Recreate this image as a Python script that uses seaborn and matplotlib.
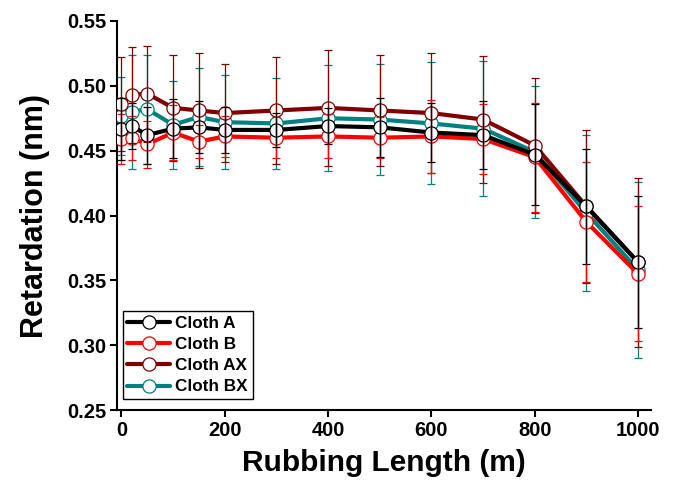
import numpy as np
import pandas as pd
import matplotlib
matplotlib.use("Agg")
import matplotlib.pyplot as plt
import seaborn as sns

# ---- data ----
rubbing_length = [0, 20, 50, 100, 150, 200, 300, 400, 500, 600, 700, 800, 900, 1000]
cloth_names = ["Cloth A", "Cloth B", "Cloth AX", "Cloth BX"]

cloth_a = [0.467, 0.469, 0.462, 0.467, 0.468, 0.466, 0.466, 0.469, 0.468, 0.464, 0.462, 0.447, 0.407, 0.364]
cloth_b = [0.459, 0.460, 0.455, 0.464, 0.457, 0.461, 0.460, 0.461, 0.460, 0.461, 0.459, 0.445, 0.395, 0.355]
cloth_ax = [0.486, 0.493, 0.494, 0.483, 0.481, 0.479, 0.481, 0.483, 0.481, 0.479, 0.474, 0.454, 0.407, 0.364]
cloth_bx = [0.477, 0.480, 0.482, 0.470, 0.476, 0.472, 0.471, 0.475, 0.474, 0.471, 0.467, 0.449, 0.402, 0.358]

err_a = [0.024, 0.018, 0.022, 0.023, 0.020, 0.018, 0.013, 0.014, 0.023, 0.023, 0.026, 0.039, 0.044, 0.051]
err_b = [0.019, 0.017, 0.018, 0.021, 0.013, 0.016, 0.016, 0.017, 0.016, 0.028, 0.027, 0.042, 0.046, 0.052]
err_ax = [0.036, 0.037, 0.037, 0.041, 0.044, 0.038, 0.041, 0.045, 0.043, 0.046, 0.049, 0.052, 0.059, 0.065]
err_bx = [0.030, 0.044, 0.042, 0.034, 0.038, 0.036, 0.035, 0.041, 0.043, 0.047, 0.052, 0.051, 0.060, 0.068]

x_ticks = [0, 200, 400, 600, 800, 1000]
y_ticks = [0.25, 0.30, 0.35, 0.40, 0.45, 0.50, 0.55]

colors = ["#000000", "#ff0000", "#800000", "#008080"]

sns.set_theme(style="ticks")
plt.rcParams["font.family"] = ["Liberation Sans", "DejaVu Sans"]
plt.rcParams["font.weight"] = "bold"
plt.rcParams["text.color"] = "black"
plt.rcParams["axes.labelcolor"] = "black"
plt.rcParams["xtick.color"] = "black"
plt.rcParams["ytick.color"] = "black"

fig = plt.figure(figsize=(6.74, 4.99), dpi=100)
ax = fig.add_axes([0.174, 0.178, 0.792, 0.780])

series = [cloth_a, cloth_b, cloth_ax, cloth_bx]
errors = [err_a, err_b, err_ax, err_bx]

for i, (name, vals, errs, col) in enumerate(zip(cloth_names, series, errors, colors)):
    df = pd.DataFrame({"Rubbing Length": rubbing_length, "Retardation": vals})
    sns.lineplot(data=df, x="Rubbing Length", y="Retardation", ax=ax,
                 color=col, linewidth=3.0, marker="o", markersize=9.5,
                 markerfacecolor="white", markeredgecolor=col, markeredgewidth=0.9,
                 label=name, zorder=3 + (3 - i) * 0.1)

# error bars: teal first, black last (black ends up on top)
for k in [3, 2, 1, 0]:
    ax.errorbar(rubbing_length, series[k], yerr=errors[k], fmt="none", ecolor=colors[k],
                elinewidth=0.9, capsize=3.2, capthick=0.9, zorder=5 + (3 - k) * 0.1)

ax.set_xlim(-8, 1025)
ax.set_ylim(0.25, 0.55)
ax.set_xticks(x_ticks)
ax.set_yticks(y_ticks)
ax.set_yticklabels([f"{v:.2f}" for v in y_ticks])
ax.tick_params(axis="both", direction="out", length=5, width=1.5, labelsize=14.5,
               color="black", labelcolor="black", pad=3)
for lab in ax.get_xticklabels() + ax.get_yticklabels():
    lab.set_fontweight("bold")

for side in ["top", "right"]:
    ax.spines[side].set_visible(False)
for side in ["left", "bottom"]:
    ax.spines[side].set_linewidth(1.5)
    ax.spines[side].set_color("black")

ax.set_xlabel("Rubbing Length (m)", fontsize=21.5, fontweight="bold", labelpad=6, color="black")
ax.set_ylabel("Retardation (nm)", fontsize=22, fontweight="bold", labelpad=12, color="black")

leg = ax.legend(loc="lower left", bbox_to_anchor=(0.01, 0.028), fontsize=12.3,
                frameon=True, fancybox=False, edgecolor="black", framealpha=1,
                handlelength=2.5, handletextpad=0.3, labelspacing=0.36,
                borderpad=0.28, borderaxespad=0)
leg.get_frame().set_linewidth(1.0)
for t in leg.get_texts():
    t.set_fontweight("bold")
    t.set_color("black")

fig.savefig("out.png", dpi=100)
